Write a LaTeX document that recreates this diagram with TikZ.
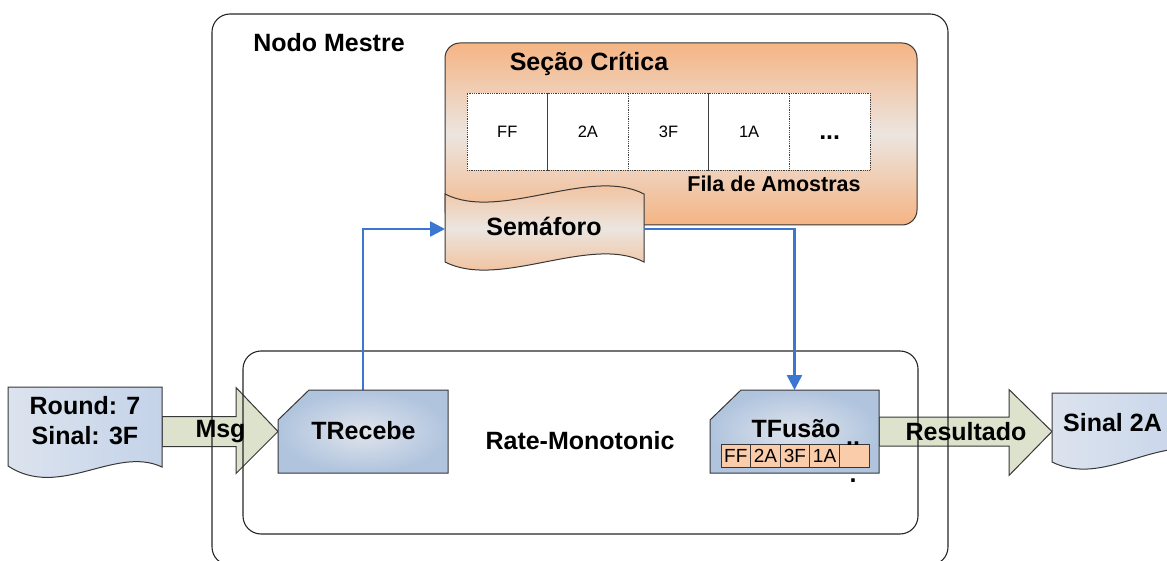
\documentclass[tikz,border=0pt]{standalone}
\usepackage{fontspec}
\setmainfont{Liberation Sans}
\usetikzlibrary{arrows.meta,calc}
\definecolor{orangeT}{RGB}{245,180,132}
\definecolor{orangeM}{RGB}{235,229,224}
\definecolor{taskIn}{RGB}{224,228,236}
\definecolor{taskOut}{RGB}{176,196,222}
\definecolor{docL}{RGB}{220,227,238}
\definecolor{docR}{RGB}{196,211,233}
\definecolor{arrFill}{RGB}{221,226,205}
\definecolor{blueC}{RGB}{58,118,210}
\definecolor{edgeC}{RGB}{55,55,55}
\definecolor{peach}{RGB}{250,204,170}
\begin{document}
\begin{tikzpicture}[x=1pt,y=-1pt,
  lbl/.style={inner sep=0pt, font=\bfseries\fontsize{25}{30}\selectfont, text height=17.9pt, text depth=0pt},
  lblsmall/.style={inner sep=0pt, font=\bfseries\fontsize{21.5}{26}\selectfont, text height=15.4pt, text depth=0pt},
  frame/.style={draw=black!85, line width=1.1pt, rounded corners=18pt, inner sep=0pt},
  holder/.style={inner sep=0pt, outer sep=0pt},
  outline/.style={draw=edgeC, line width=1pt},
  cell/.style={draw=black!75, densely dotted, line width=0.8pt, fill=white, minimum width=80.6pt, minimum height=77pt, inner sep=0pt, text height=11.8pt, text depth=0pt, font=\fontsize{16.5}{18}\selectfont},
  minicell/.style={draw=edgeC, line width=0.8pt, fill=peach, minimum width=29.6pt, minimum height=23pt, inner sep=0pt, text height=13.6pt, text depth=0pt, font=\fontsize{19}{22}\selectfont},
  blockarrow/.style={fill=arrFill, draw=edgeC, line width=1pt, line join=miter},
  conn/.style={draw=blueC, line width=2.6pt, -{Triangle[length=15pt,width=15pt]}}
]
\useasboundingbox (0,0) rectangle (1167,561);

% ---- placeholders for the shapes
\node[holder, minimum width=154pt, minimum height=81pt] (round) at (85,427.5) {};
\node[holder, minimum width=154pt, minimum height=69pt] (sinal) at (1129,427.5) {};
\node[holder, minimum width=170pt, minimum height=83pt] (trecebe) at (363,431.5) {};
\node[holder, minimum width=169pt, minimum height=83pt] (tfusao) at (794.5,431.5) {};
\node[holder, minimum width=199pt, minimum height=68pt] (semaforo) at (544.5,229) {};

% ---- block arrows (under the frames)
\coordinate (msgtail) at (round.east |- trecebe.west);
\filldraw[blockarrow] ($(msgtail)+(0,-15)$) -- ($(trecebe.west)+(-42,-15)$) -- ($(trecebe.west)+(-42,-44)$)
  -- (trecebe.west) -- ($(trecebe.west)+(-42,42)$) -- ($(trecebe.west)+(-42,15)$) -- ($(msgtail)+(0,15)$) -- cycle;
\coordinate (restip) at (sinal.west |- tfusao.east);
\filldraw[blockarrow] ($(tfusao.east)+(0,-14.5)$) -- ($(restip)+(-43,-14.5)$) -- ($(restip)+(-43,-42)$)
  -- (restip) -- ($(restip)+(-43,44)$) -- ($(restip)+(-43,14.5)$) -- ($(tfusao.east)+(0,14.5)$) -- cycle;

% ---- frames
\node[frame, minimum width=736pt, minimum height=551pt] (mestre) at (580,289.5) {};
\node[frame, minimum width=675pt, minimum height=183pt] (rm) at (580.5,442.5) {};
\node[lbl] (mestretxt) at (329,42.5) {Nodo Mestre};
\node[lbl] (rmtxt) at (580,441) {Rate-Monotonic};

% ---- critical section
\node[holder, minimum width=472pt, minimum height=182pt] (secao) at (681,134) {};
\shade[top color=orangeT, bottom color=orangeT, middle color=orangeM, rounded corners=15pt]
  (secao.north west) rectangle (secao.south east);
\draw[outline, rounded corners=15pt] (secao.north west) rectangle (secao.south east);
\node[lbl] (secaotxt) at (589,62) {Seção Crítica};
\node[cell] (q1) at (507.3,131.5) {FF};
\node[cell] (q2) at (587.9,131.5) {2A};
\node[cell] (q3) at (668.5,131.5) {3F};
\node[cell] (q4) at (749.1,131.5) {1A};
\node[cell] (q5) at (829.7,131.5) {};
\node[lbl, anchor=base] (q5txt) at (829.7,140) {...};
\node[lblsmall] (filatxt) at (774,184) {Fila de Amostras};

% ---- semaphore (punched tape)
\path[top color=orangeT, bottom color=orangeT, middle color=orangeM, draw=edgeC, line width=1pt]
  (445,194) .. controls (500,222) and (590,166) .. (644,194)
  -- (644,262) .. controls (590,234) and (500,290) .. (445,262) -- cycle;
\node[lbl] (semaforotxt) at (544,226.7) {Semáforo};

% ---- connectors
\draw[conn] (trecebe.north) |- (semaforo.west);
\draw[conn] (semaforo.east) -| (tfusao.north);

% ---- documents
\path[left color=docL, right color=docR, draw=edgeC, line width=1pt]
  (8,387) -- (162,387) -- (162,467) .. controls (115,445) and (60,500) .. (8,466) -- cycle;
\node[lbl] (roundtxt) at (85,406) {Round: 7};
\node[lbl] (sinaltxt) at (85,436) {Sinal: 3F};
\path[left color=docL, right color=docR, draw=edgeC, line width=1pt]
  (1052,393) -- (1210,393) -- (1210,453) .. controls (1159,433) and (1104,488) .. (1052,462) -- cycle;
\node[lbl] (sinal2txt) at (1112.5,423) {Sinal 2A};

% ---- tasks
\path[inner color=taskIn, outer color=taskOut, draw=edgeC, line width=1pt]
  ($(trecebe.north west)+(31,0)$) -- (trecebe.north east) -- (trecebe.south east) -- (trecebe.south west)
  -- ($(trecebe.north west)+(0,30)$) -- cycle;
\node[lbl] (trecebetxt) at (363.5,430.5) {TRecebe};
\path[inner color=taskIn, outer color=taskOut, draw=edgeC, line width=1pt]
  ($(tfusao.north west)+(31,0)$) -- (tfusao.north east) -- (tfusao.south east) -- (tfusao.south west)
  -- ($(tfusao.north west)+(0,30)$) -- cycle;
\node[lbl] (tfusaotxt) at (796,429) {TFusão};
\node[minicell] (m1) at (735.8,455.5) {FF};
\node[minicell] (m2) at (765.4,455.5) {2A};
\node[minicell] (m3) at (795.0,455.5) {3F};
\node[minicell] (m4) at (824.6,455.5) {1A};
\node[minicell] (m5) at (854.2,455.5) {};
\node[lbl, anchor=base] (dotsA) at (853,445) {..};
\node[lbl, anchor=base] (dotsB) at (853,482) {.};

% ---- arrow labels
\node[lbl] (msgtxt) at (220.5,429) {Msg};
\node[lbl] (restxt) at (966,431.7) {Resultado};
\end{tikzpicture}
\end{document}
